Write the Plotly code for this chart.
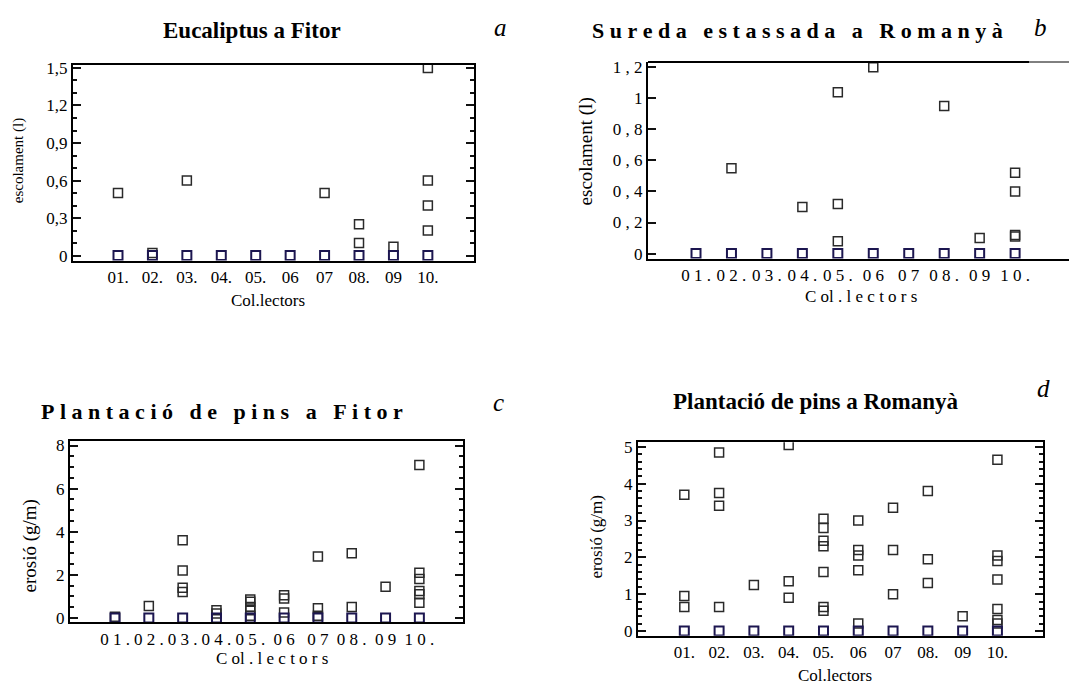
import plotly.graph_objects as go

# ---------------- data ----------------
collectors = [1, 2, 3, 4, 5, 6, 7, 8, 9, 10]
collector_labels = ["01.", "02.", "03.", "04.", "05.", "06", "07", "08.", "09", "10."]

# values per collector (runoff, litres)
eucaliptus_fitor = [
    [0.5, 0], [0.02, 0], [0.6, 0], [0], [0], [0], [0.5, 0],
    [0.25, 0.1, 0], [0.07, 0], [1.5, 0.6, 0.4, 0.2, 0],
]
sureda_romanya = [
    [0], [0.55, 0], [0], [0.3, 0], [1.04, 0.32, 0.08, 0], [1.2, 0], [0],
    [0.95, 0], [0.1, 0], [0.52, 0.4, 0.12, 0.11, 0],
]
# erosion (g/m)
pins_fitor = [
    [0.05, 0], [0.55, 0], [3.6, 2.2, 1.4, 1.2, 0], [0.35, 0.2, 0],
    [0.85, 0.75, 0.5, 0.35, 0.1, 0], [1.05, 0.9, 0.25, 0], [2.85, 0.45, 0.1, 0],
    [3.0, 0.5, 0], [1.45, 0], [7.1, 2.1, 1.8, 1.25, 1.1, 0.7, 0],
]
pins_romanya = [
    [3.7, 0.95, 0.65, 0], [4.85, 3.75, 3.4, 0.65, 0], [1.25, 0], [5.05, 1.35, 0.9, 0],
    [3.05, 2.8, 2.45, 2.3, 1.6, 0.65, 0.55, 0], [3.0, 2.2, 2.05, 1.65, 0.2, 0],
    [3.35, 2.2, 1.0, 0], [3.8, 1.95, 1.3, 0], [0.4, 0],
    [4.65, 2.05, 1.9, 1.4, 0.6, 0.3, 0.2, 0],
]

a_yticks = [0, 0.3, 0.6, 0.9, 1.2, 1.5]
a_yticklabels = ["0", "0,3", "0,6", "0,9", "1,2", "1,5"]
b_yticks = [0, 0.2, 0.4, 0.6, 0.8, 1.0, 1.2]
b_yticklabels = ["0", "0,2", "0,4", "0,6", "0,8", "1", "1,2"]
c_yticks = [0, 2, 4, 6, 8]
d_yticks = [0, 1, 2, 3, 4, 5]

# minor tick spacing per panel (a, c, d)
a_minor_step, a_minor_count = 0.1, 16
c_minor_step, c_minor_count = 0.5, 17
d_minor_step, d_minor_count = 0.2, 26

W, H = 1069, 691
SERIF = "Liberation Serif"
NB = "\u00a0"
TICK_COLOR = "#111111"


def spaced(text, gap=NB, wordgap=NB * 3):
    return wordgap.join(gap.join(list(w)) for w in text.split(" "))


def px_x(p):
    return p / W


def px_y(p):
    return 1 - p / H


def minor_vals(step, count):
    return [round(step * i, 4) for i in range(count)]


fig = go.Figure()

panels = [
    (eucaliptus_fitor, "x", "y"),
    (sureda_romanya, "x2", "y2"),
    (pins_fitor, "x3", "y3"),
    (pins_romanya, "x4", "y4"),
]

for data, xa, ya in panels:
    xs_nz, ys_nz, xs_z, ys_z = [], [], [], []
    for c, vals in zip(collectors, data):
        for v in vals:
            if v == 0:
                xs_z.append(c)
                ys_z.append(v)
            else:
                xs_nz.append(c)
                ys_nz.append(v)
    fig.add_trace(go.Scatter(
        x=xs_nz, y=ys_nz, mode="markers", xaxis=xa, yaxis=ya, showlegend=False,
        marker=dict(symbol="square-open", size=9, color="#2a2a2a", line=dict(width=1.5)),
    ))
    fig.add_trace(go.Scatter(
        x=xs_z, y=ys_z, mode="markers", xaxis=xa, yaxis=ya, showlegend=False,
        marker=dict(symbol="square-open", size=9, color="#1c1650", line=dict(width=2)),
    ))

tickfont = dict(family=SERIF, size=17, color="black")


def xaxis(domain, rng, labels, anchor, mirror=True):
    return dict(
        domain=domain, range=rng, tickmode="array", tickvals=collectors, ticktext=labels,
        anchor=anchor, showgrid=False, zeroline=False, showline=True, linecolor="black",
        linewidth=2, mirror=mirror, ticks="", tickfont=tickfont,
    )


def yaxis(domain, rng, tickvals, ticktext, minor, anchor, mirror="ticks"):
    d = dict(
        domain=domain, range=rng, tickmode="array", tickvals=tickvals, ticktext=ticktext,
        anchor=anchor, showgrid=False, zeroline=False, showline=True, linecolor="black",
        linewidth=2, mirror=mirror, ticks="inside", ticklen=8, tickwidth=2,
        tickcolor=TICK_COLOR, tickfont=tickfont,
    )
    if minor:
        d["minor"] = dict(ticks="inside", ticklen=4, tickwidth=1.5, tickcolor=TICK_COLOR,
                          tickmode="array", tickvals=minor)
    return d


spaced_labels = [spaced(t) for t in collector_labels]

fig.update_layout(
    width=W, height=H, margin=dict(l=0, r=0, t=0, b=0),
    paper_bgcolor="white", plot_bgcolor="white",
    xaxis=xaxis([px_x(73), px_x(474)], [-0.307, 11.34], collector_labels, "y"),
    yaxis=yaxis([px_y(259), px_y(60)], [-0.039, 1.524], a_yticks, a_yticklabels,
                minor_vals(a_minor_step, a_minor_count), "x"),
    xaxis2=xaxis([px_x(648), 1.0], [-0.354, 11.52], spaced_labels, "y2", mirror=False),
    yaxis2=yaxis([px_y(257), px_y(57)], [-0.032, 1.234], b_yticks,
                 [spaced(t) for t in b_yticklabels], None, "x2", mirror=False),
    xaxis3=xaxis([px_x(70), px_x(463)], [-0.331, 11.29], spaced_labels, "y3"),
    yaxis3=yaxis([px_y(627), px_y(443)], [-0.196, 8.196], c_yticks,
                 [str(v) for v in c_yticks], minor_vals(c_minor_step, c_minor_count), "x3"),
    xaxis4=xaxis([px_x(638), px_x(1043)], [-0.331, 11.31], collector_labels, "y4"),
    yaxis4=yaxis([px_y(641), px_y(444)], [-0.133, 5.125], d_yticks,
                 [str(v) for v in d_yticks], minor_vals(d_minor_step, d_minor_count), "x4"),
)

# top line of panel b (thick part then thin continuation)
fig.add_shape(type="line", xref="paper", yref="paper", x0=px_x(648), x1=px_x(1029),
              y0=px_y(57), y1=px_y(57), line=dict(color="black", width=2))
fig.add_shape(type="line", xref="paper", yref="paper", x0=px_x(1029), x1=1.0,
              y0=px_y(57), y1=px_y(57), line=dict(color="black", width=1))


def ann(text, x, y, size, angle=0, bold=False, italic=False):
    t = text
    if bold:
        t = "<b>" + t + "</b>"
    if italic:
        t = "<i>" + t + "</i>"
    fig.add_annotation(text=t, x=px_x(x), y=px_y(y), xref="paper", yref="paper",
                       showarrow=False, textangle=angle, xanchor="center", yanchor="middle",
                       font=dict(family=SERIF, size=size, color="black"))


spaced_coll = NB.join(list("Col.lectors")).replace("o" + NB + "l", "ol")

# titles
ann("Eucaliptus a Fitor", 252, 25, 23, bold=True)
ann("a", 500, 22, 25, italic=True)
ann(spaced("Sureda estassada a Romanyà"), 797, 25, 22, bold=True)
ann("b", 1040, 22, 25, italic=True)
ann(spaced("Plantació de pins a Fitor"), 222, 413, 22, bold=True)
ann("c", 498, 403, 25, italic=True)
ann("Plantació de pins a Romanyà", 815, 402, 23, bold=True)
ann("d", 1043, 389, 25, italic=True)

# axis titles
ann("Col.lectors", 268, 300, 17)
ann(spaced_coll, 861, 296, 17)
ann(spaced_coll, 272, 664, 17)
ann("Col.lectors", 835, 681, 17)

ann("escolament (l)", 18, 158, 15, angle=-90)
ann("escolament (l)", 586, 148, 19, angle=-90)
ann("erosió (g/m)", 30, 550, 19, angle=-90)
ann("erosió (g/m)", 597, 540, 17, angle=-90)

fig.write_html("out.html", config={"displayModeBar": False},
               post_script="document.body.style.margin='0';")
